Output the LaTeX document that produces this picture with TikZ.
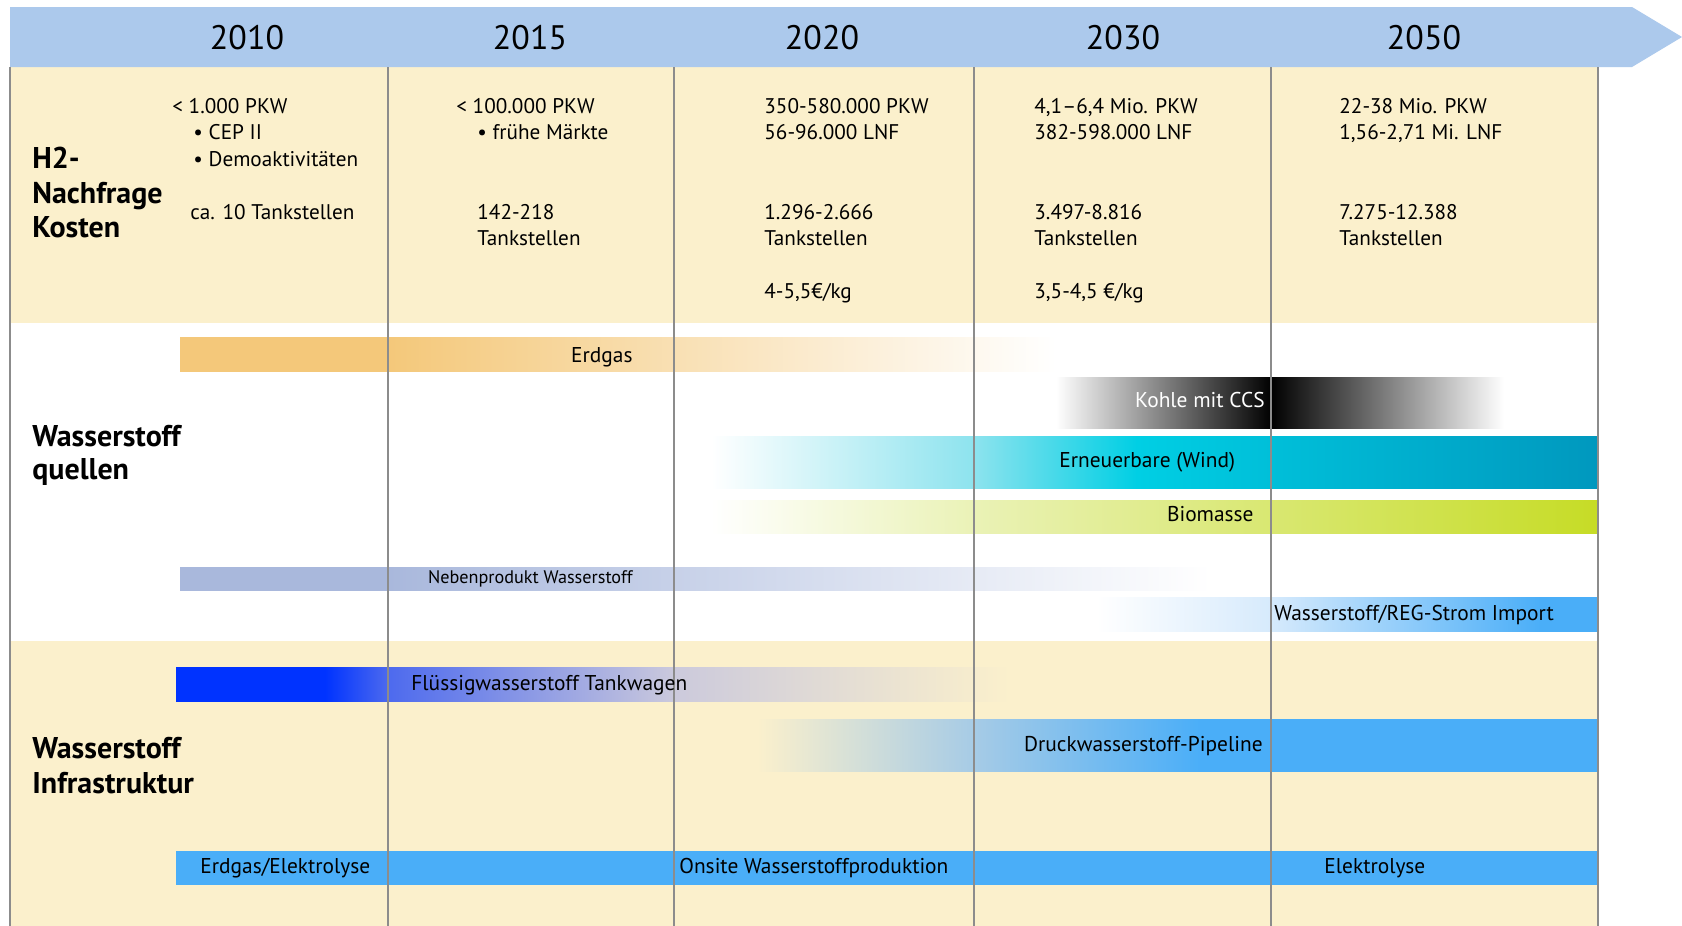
\documentclass[tikz,border=0pt]{standalone}
\usepackage{fontspec}
\setmainfont{PT Sans}
\definecolor{headblue}{RGB}{172,201,236}
\definecolor{band}{RGB}{251,240,204}
\definecolor{gridgrey}{RGB}{140,140,140}
\definecolor{erdgasorange}{RGB}{244,200,122}
\definecolor{nebenblue}{RGB}{169,184,220}
\definecolor{windlight}{RGB}{141,227,238}
\definecolor{windmid}{RGB}{0,207,228}
\definecolor{winddark}{RGB}{0,152,190}
\definecolor{biolight}{RGB}{234,242,182}
\definecolor{biodark}{RGB}{198,220,38}
\definecolor{skyblue}{RGB}{74,174,248}
\definecolor{importlight}{RGB}{214,234,252}
\definecolor{pipelight}{RGB}{166,203,230}
\definecolor{truckblue}{RGB}{0,51,255}
\definecolor{truckmid}{RGB}{77,106,238}
\definecolor{truckgrey}{RGB}{204,202,220}
\begin{document}
\begin{tikzpicture}[x=0.5pt, y=0.5pt, every node/.style={inner sep=0pt},
	year/.style={anchor=base, font=\fontsize{17}{20}\selectfont},
	info/.style={anchor=base west, font=\fontsize{10.6}{12}\selectfont},
	rowhead/.style={anchor=base west, font=\fontsize{15}{18}\selectfont\bfseries},
	barlabel/.style={font=\fontsize{10.7}{12}\selectfont}]
	\fill[white] (0,0) rectangle (1682,-926);
	\useasboundingbox (0,0) rectangle (1682,-926);
	% bands and time arrow
	\fill[band] (10,-67) rectangle (1598,-323);
	\fill[band] (10,-641) rectangle (1598,-926);
	\fill[headblue] (10,-7) -- (1632,-7) -- (1682,-37) -- (1632,-67) -- (10,-67) -- cycle;
	\node[year] (y2010) at (247,-49) {2010};
	\node[year] (y2015) at (530,-49) {2015};
	\node[year] (y2020) at (822,-49) {2020};
	\node[year] (y2030) at (1123,-49) {2030};
	\node[year] (y2050) at (1424,-49) {2050};
	% sources
	\fill[left color=erdgasorange, right color=erdgasorange] (180,-337) rectangle (389,-371);
	\fill[left color=erdgasorange, right color=white] (388,-337) rectangle (1056,-371);
	\fill[left color=white, right color=black] (1056,-377) rectangle (1272,-428);
	\fill[left color=black, right color=white] (1271,-377) rectangle (1504,-428);
	\fill[left color=white, right color=windlight] (711,-436) rectangle (975,-488);
	\fill[left color=windlight, right color=windmid] (974,-436) rectangle (1137,-488);
	\fill[left color=windmid, right color=winddark] (1136,-436) rectangle (1598,-488);
	\fill[left color=white, right color=biolight] (711,-500) rectangle (975,-533);
	\fill[left color=biolight, right color=biodark] (974,-500) rectangle (1598,-533);
	\fill[left color=nebenblue, right color=nebenblue] (180,-567) rectangle (389,-590);
	\fill[left color=nebenblue, right color=white] (388,-567) rectangle (1211,-590);
	\fill[left color=white, right color=importlight] (1096,-597) rectangle (1272,-631);
	\fill[left color=importlight, right color=skyblue] (1271,-597) rectangle (1541,-631);
	\fill[left color=skyblue, right color=skyblue] (1540,-597) rectangle (1598,-631);
	\fill[white] (1599,-325) rectangle (1682,-639);
	% infrastructure
	\fill[left color=truckblue, right color=truckblue] (176,-667) rectangle (326,-701);
	\fill[left color=truckblue, right color=truckmid] (325,-667) rectangle (389,-701);
	\fill[left color=truckmid, right color=truckgrey] (388,-667) rectangle (676,-701);
	\fill[left color=truckgrey, right color=band] (675,-667) rectangle (1010,-701);
	\fill[left color=band, right color=pipelight] (757,-719) rectangle (975,-771);
	\fill[left color=pipelight, right color=skyblue] (974,-719) rectangle (1201,-771);
	\fill[left color=skyblue, right color=skyblue] (1200,-719) rectangle (1598,-771);
	\fill[skyblue] (176,-851) rectangle (1598,-885);
	% year lines
	\foreach \x in {10,388,674,974,1271,1598}
		\draw[gridgrey, line width=0.7pt] (\x,-67) -- (\x,-926);
	% row titles
	\node[rowhead] (h2a) at (32,-168) {H2-};
	\node[rowhead] (h2b) at (32,-203) {Nachfrage};
	\node[rowhead] (h2c) at (32,-237) {Kosten};
	\node[rowhead] (srca) at (32,-446) {Wasserstoff};
	\node[rowhead] (srcb) at (32,-479) {quellen};
	\node[rowhead] (infa) at (32,-758) {Wasserstoff};
	\node[rowhead] (infb) at (32,-793) {Infrastruktur};
	% demand and costs
	\node[info] (a1) at (172,-113) {< 1.000 PKW};
	\node[info] (a2) at (193,-139.5) {• CEP II};
	\node[info] (a3) at (193,-166) {• Demoaktivitäten};
	\node[info] (a4) at (190,-219) {ca. 10 Tankstellen};
	\node[info] (b1) at (456,-113) {< 100.000 PKW};
	\node[info] (b2) at (477,-139.5) {• frühe Märkte};
	\node[info] (b3) at (477,-219) {142-218};
	\node[info] (b4) at (477,-245.5) {Tankstellen};
	\node[info] (c1) at (764,-113) {350-580.000 PKW};
	\node[info] (c2) at (764,-139.5) {56-96.000 LNF};
	\node[info] (c3) at (764,-219) {1.296-2.666};
	\node[info] (c4) at (764,-245.5) {Tankstellen};
	\node[info] (c5) at (764,-298.5) {4-5,5€/kg};
	\node[info] (d1) at (1034,-113) {4,1–6,4 Mio. PKW};
	\node[info] (d2) at (1034,-139.5) {382-598.000 LNF};
	\node[info] (d3) at (1034,-219) {3.497-8.816};
	\node[info] (d4) at (1034,-245.5) {Tankstellen};
	\node[info] (d5) at (1034,-298.5) {3,5-4,5 €/kg};
	\node[info] (e1) at (1339,-113) {22-38 Mio. PKW};
	\node[info] (e2) at (1339,-139.5) {1,56-2,71 Mi. LNF};
	\node[info] (e3) at (1339,-219) {7.275-12.388};
	\node[info] (e4) at (1339,-245.5) {Tankstellen};
	% bar labels
	\node[barlabel, anchor=base east] (lErdgas) at (633,-362) {Erdgas};
	\node[barlabel, anchor=base east, text=white] (lKohle) at (1265,-407) {Kohle mit CCS};
	\node[barlabel, anchor=base west] (lWind) at (1059,-467) {Erneuerbare (Wind)};
	\node[barlabel, anchor=base east] (lBio) at (1254,-521) {Biomasse};
	\node[barlabel, anchor=base east, font=\fontsize{9.1}{11}\selectfont] (lNeben) at (633,-583) {Nebenprodukt Wasserstoff};
	\node[barlabel, anchor=base west] (lImport) at (1274,-620) {Wasserstoff/REG-Strom Import};
	\node[barlabel, anchor=base west] (lTruck) at (411,-690) {Flüssigwasserstoff Tankwagen};
	\node[barlabel, anchor=base east] (lPipe) at (1263,-751) {Druckwasserstoff-Pipeline};
	\node[barlabel, anchor=base west] (lMix) at (200,-873) {Erdgas/Elektrolyse};
	\node[barlabel, anchor=base west] (lOnsite) at (679,-873) {Onsite Wasserstoffproduktion};
	\node[barlabel, anchor=base west] (lElyse) at (1324,-873) {Elektrolyse};
\end{tikzpicture}
\end{document}
